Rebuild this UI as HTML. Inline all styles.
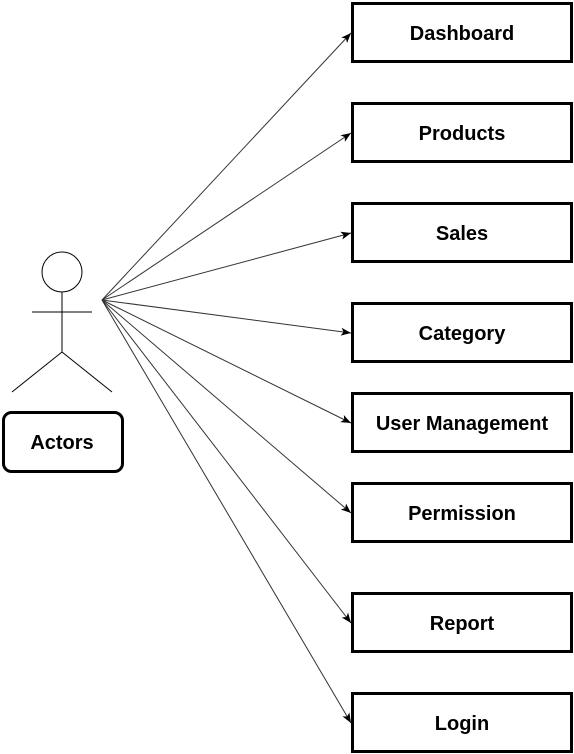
<!DOCTYPE html>
<html><head><style>html,body{margin:0;padding:0;background:#fff;}svg{display:block}</style></head>
<body>
<svg width="574" height="754" viewBox="0 0 574 754" xmlns="http://www.w3.org/2000/svg">
<defs><marker id="a" markerWidth="12" markerHeight="12" refX="10" refY="5.5" orient="auto" markerUnits="userSpaceOnUse"><path d="M0,1.5 L10,5.5 L0,9.5 L2.5,5.5 Z" fill="#000"/></marker></defs>
<g stroke="#000" stroke-width="1" fill="none">
<circle cx="62" cy="272" r="20"/>
<line x1="62" y1="292" x2="62" y2="352"/>
<line x1="32" y1="312" x2="92" y2="312"/>
<line x1="62" y1="352" x2="12" y2="392"/>
<line x1="62" y1="352" x2="112" y2="392"/>
</g>
<rect x="3.5" y="412.5" width="119" height="59" rx="8" fill="#fff" stroke="#000" stroke-width="3"/>
<g stroke="#333" stroke-width="1" marker-end="url(#a)">
<line x1="102" y1="300" x2="351" y2="33"/>
<line x1="102" y1="300" x2="351" y2="133"/>
<line x1="102" y1="300" x2="351" y2="233"/>
<line x1="102" y1="300" x2="351" y2="333"/>
<line x1="102" y1="300" x2="351" y2="423"/>
<line x1="102" y1="300" x2="351" y2="513"/>
<line x1="102" y1="300" x2="351" y2="623"/>
<line x1="102" y1="300" x2="351" y2="723"/>
</g>
<g fill="#fff" stroke="#000" stroke-width="3">
<rect x="352.5" y="3.5" width="219" height="58"/>
<rect x="352.5" y="103.5" width="219" height="58"/>
<rect x="352.5" y="203.5" width="219" height="58"/>
<rect x="352.5" y="303.5" width="219" height="58"/>
<rect x="352.5" y="393.5" width="219" height="58"/>
<rect x="352.5" y="483.5" width="219" height="58"/>
<rect x="352.5" y="593.5" width="219" height="58"/>
<rect x="352.5" y="693.5" width="219" height="58"/>
</g>
<g font-family="Liberation Sans, sans-serif" font-weight="bold" font-size="20" text-anchor="middle" fill="#000">
<text x="62" y="449">Actors</text>
<text x="462" y="40">Dashboard</text>
<text x="462" y="140">Products</text>
<text x="462" y="240">Sales</text>
<text x="462" y="340">Category</text>
<text x="462" y="430">User Management</text>
<text x="462" y="520">Permission</text>
<text x="462" y="630">Report</text>
<text x="462" y="730">Login</text>
</g>
</svg>
</body></html>
